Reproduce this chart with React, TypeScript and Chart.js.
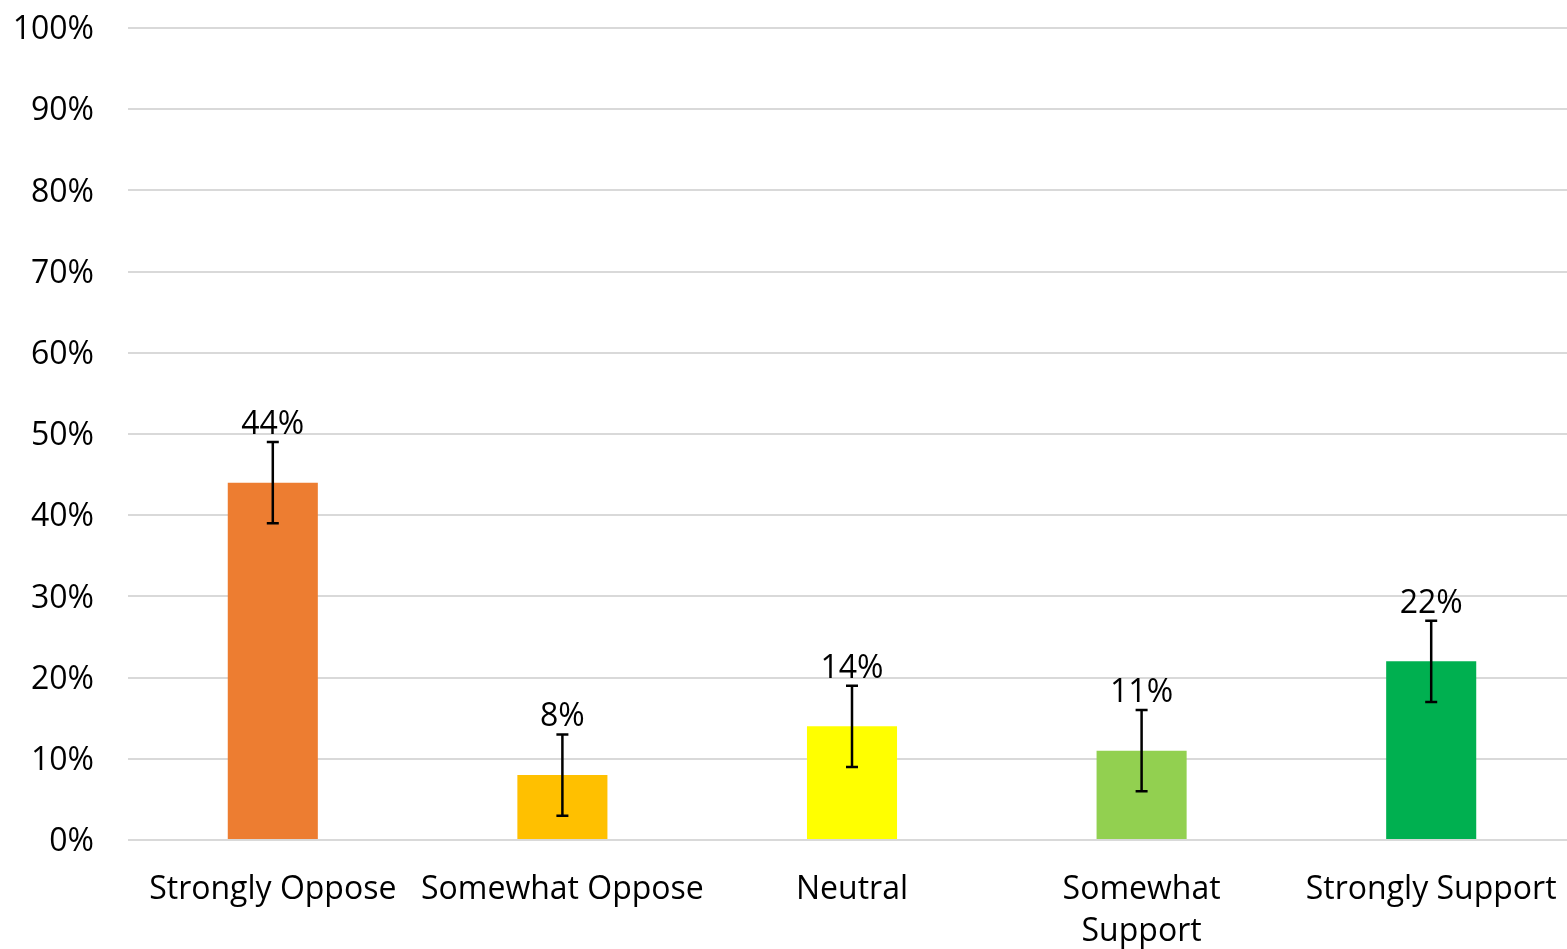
import React, { useEffect, useRef } from "react";
import { Chart, registerables } from "chart.js";

Chart.register(...registerables);

const categories: (string | string[])[] = [
  "Strongly Oppose",
  "Somewhat Oppose",
  "Neutral",
  ["Somewhat", "Support"],
  "Strongly Support",
];
const values = [44, 8, 14, 11, 22];
const errors = [5, 5, 5, 5, 5];
const barColors = ["#ED7D31", "#FFC000", "#FFFF00", "#92D050", "#00B050"];
const yTicks = [0, 10, 20, 30, 40, 50, 60, 70, 80, 90, 100];

const FONT = "'Open Sans', 'Noto Sans', sans-serif";
const FS = 32;

const errorBarPlugin = {
  id: "errorBars",
  afterDatasetsDraw(chart: any) {
    const { ctx, scales } = chart;
    const xs = scales.x;
    const ys = scales.y;
    ctx.save();
    values.forEach((v, i) => {
      const x = xs.getPixelForValue(i);
      const top = ys.getPixelForValue(v + errors[i]);
      const bot = ys.getPixelForValue(v - errors[i]);
      ctx.strokeStyle = "#000";
      ctx.lineWidth = 2.5;
      ctx.beginPath();
      ctx.moveTo(x, top);
      ctx.lineTo(x, bot);
      ctx.moveTo(x - 6, top);
      ctx.lineTo(x + 6, top);
      ctx.moveTo(x - 6, bot);
      ctx.lineTo(x + 6, bot);
      ctx.stroke();
      ctx.fillStyle = "#000";
      ctx.font = `${FS}px ${FONT}`;
      ctx.textAlign = "center";
      ctx.textBaseline = "alphabetic";
      ctx.fillText(`${v}%`, x, top - 8);
    });
    ctx.restore();
  },
};

export default function App() {
  const ref = useRef<HTMLCanvasElement | null>(null);
  useEffect(() => {
    document.body.style.margin = "0";
    const chart = new Chart(ref.current!, {
      type: "bar",
      data: {
        labels: categories as any,
        datasets: [
          {
            data: values,
            backgroundColor: barColors,
            barPercentage: 0.311,
            categoryPercentage: 1,
          },
        ],
      },
      options: {
        animation: false,
        responsive: false,
        layout: { padding: { top: 28, right: 0, left: 0, bottom: 0 } },
        plugins: { legend: { display: false }, tooltip: { enabled: false } },
        scales: {
          x: {
            grid: { display: false },
            border: { display: false },
            ticks: {
              color: "#000",
              font: { family: FONT, size: FS, lineHeight: 42 / FS },
              padding: 21,
              maxRotation: 0,
              autoSkip: false,
            },
            afterFit(scale: any) {
              scale.height = 109;
              scale.paddingLeft = 0;
              scale.paddingRight = 0;
            },
          },
          y: {
            min: 0,
            max: 100,
            afterBuildTicks(scale: any) {
              scale.ticks = yTicks.map((v) => ({ value: v }));
            },
            grid: { color: "#D9D9D9", lineWidth: 2, drawTicks: false },
            border: { display: false },
            ticks: {
              color: "#000",
              font: { family: FONT, size: FS },
              padding: 34,
              labelOffset: 2,
              callback: (v: any) => `${v}%`,
            },
            afterFit(scale: any) {
              scale.width = 128;
              scale.paddingTop = 0;
              scale.paddingBottom = 0;
            },
          },
        },
      },
      plugins: [errorBarPlugin],
    });
    return () => chart.destroy();
  }, []);
  return (
    <div
      style={{
        position: "fixed",
        left: 0,
        top: 0,
        width: 1567,
        height: 949,
        overflow: "hidden",
        background: "#fff",
      }}
    >
      <canvas ref={ref} width={1576} height={949} />
    </div>
  );
}
